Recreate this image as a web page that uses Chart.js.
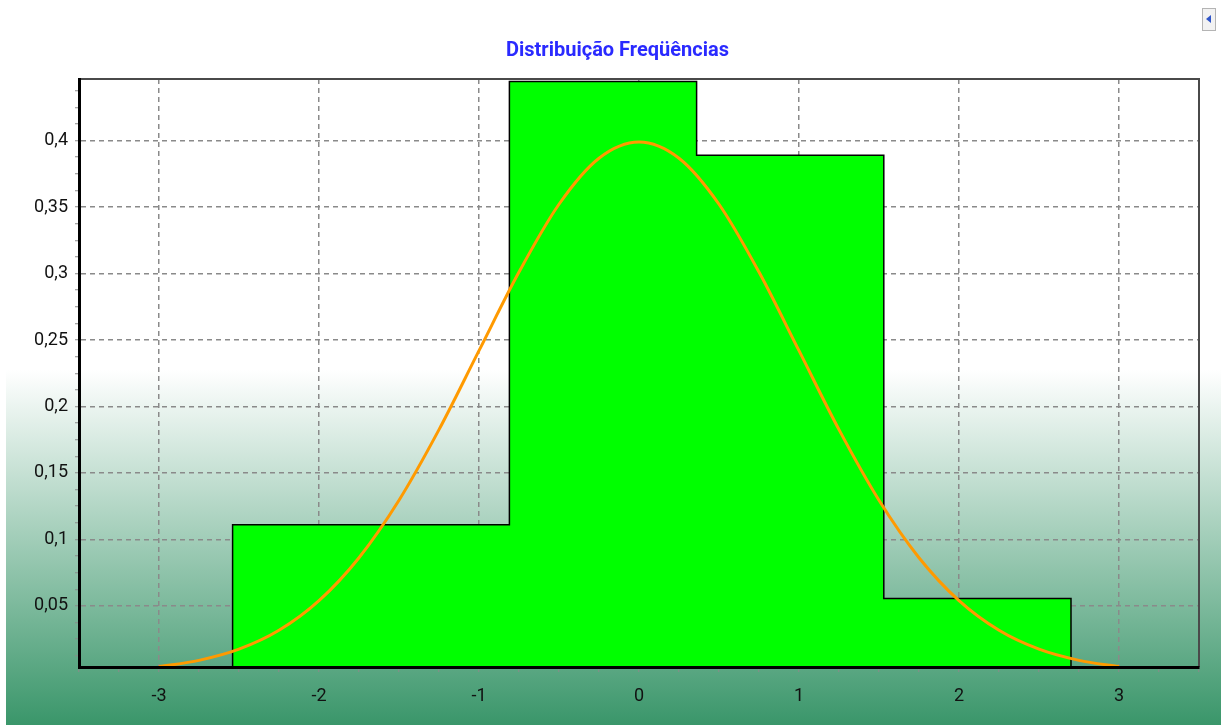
<!DOCTYPE html>
<html>
<head>
    <meta charset="UTF-8">
    <title>Distribuição Freqüências</title>
    <script src="https://cdn.jsdelivr.net/npm/chart.js@4.4.0/dist/chart.umd.min.js"></script>

    <style type="text/css">
        body {
            padding:0px;
            margin:0px;
            background:#ffffff;
        }

        #wrap {
            position:relative;
            width:1221px;
            height:725px;
            overflow:hidden;
        }

        #bg {
            position:absolute;
            left:6px;
            right:0px;
            top:370px;
            bottom:0px;
            background:linear-gradient(to bottom, #ffffff 0%, #3a966a 100%);
        }

        #freqChart {
            position:absolute;
            left:0px;
            top:0px;
        }

        #scrollBtn {
            position:absolute;
            left:1202px;
            top:8px;
            width:12px;
            height:21px;
            border:1px solid #b4b4b4;
            background:#f2f2f2;
        }

        #scrollBtn span {
            position:absolute;
            left:3px;
            top:6px;
            width:0;
            height:0;
            border-top:4px solid transparent;
            border-bottom:4px solid transparent;
            border-right:5px solid #2f55c8;
        }
    </style>
</head>
<body>

<div id="wrap">
    <div id="bg"></div>
    <canvas id="freqChart" width="1221" height="725"></canvas>
    <div id="scrollBtn"><span></span></div>
</div>

<script type="text/javascript">

    // histogram: class edges and relative frequencies
    var binEdges = [-2.54, -0.81, 0.36, 1.53, 2.70];
    var binFreq = [0.1111, 0.4444, 0.3889, 0.0556];

    // normal curve
    var curveX = [-3, -2.75, -2.5, -2.25, -2, -1.75, -1.5, -1.25, -1, -0.75, -0.5, -0.25, 0,
                  0.25, 0.5, 0.75, 1, 1.25, 1.5, 1.75, 2, 2.25, 2.5, 2.75, 3];
    var curveY = [0.0044, 0.0091, 0.0175, 0.0317, 0.0540, 0.0863, 0.1295, 0.1826, 0.2420, 0.3011, 0.3521, 0.3867, 0.3989,
                  0.3867, 0.3521, 0.3011, 0.2420, 0.1826, 0.1295, 0.0863, 0.0540, 0.0317, 0.0175, 0.0091, 0.0044];

    // axis ticks
    var xTickLabels = [-3, -2, -1, 0, 1, 2, 3];
    var yTickLabels = [0.05, 0.1, 0.15, 0.2, 0.25, 0.3, 0.35, 0.4];
    var xRange = [-3.5, 3.5];
    var yRange = [0.0041, 0.4463];
    var xMinorStep = 0.25;
    var yMinorStep = 0.0125;

    var titleText = 'Distribuição Freqüências';
    var labelFont = "Roboto, 'Liberation Sans', sans-serif";

    // build the step outline of the histogram
    var histPoints = [{x: binEdges[0], y: yRange[0]}];
    for (var i = 0; i < binFreq.length; i++) {
        histPoints.push({x: binEdges[i], y: binFreq[i]});
    }
    histPoints.push({x: binEdges[binEdges.length - 1], y: yRange[0]});

    var curvePoints = curveX.map(function (x, k) {
        return {x: x, y: curveY[k]};
    });

    function isIn(list, v) {
        for (var j = 0; j < list.length; j++) {
            if (Math.abs(list[j] - v) < 1e-6) return true;
        }
        return false;
    }

    function minorTicks(lo, hi, step) {
        var out = [];
        var start = Math.ceil(lo / step - 1e-6);
        for (var k = start; k * step <= hi + 1e-9; k++) {
            out.push({value: Math.round(k * step * 10000) / 10000});
        }
        return out;
    }

    // top and right border of the plot frame, title nudged over the plot
    var frameBorder = {
        id: 'frameBorder',
        afterLayout: function (chart) {
            if (chart.titleBlock) {
                chart.titleBlock.left += 18;
                chart.titleBlock.right += 18;
            }
        },
        beforeDatasetsDraw: function (chart) {
            var a = chart.chartArea;
            var ctx = chart.ctx;
            ctx.save();
            ctx.lineWidth = 2;
            ctx.strokeStyle = '#4a4a4a';
            ctx.beginPath();
            ctx.moveTo(a.left, a.top);
            ctx.lineTo(a.right, a.top);
            ctx.lineTo(a.right, a.bottom);
            ctx.stroke();
            ctx.restore();
        }
    };

    var gridGray = '#8a8a8a';

    var ctx = document.getElementById('freqChart').getContext('2d');
    var freqChart = new Chart(ctx, {
        type: 'line',
        data: {
            datasets: [{
                label: 'Frequência',
                data: histPoints,
                stepped: true,
                fill: 'start',
                backgroundColor: '#00ff00',
                borderColor: '#000000',
                borderWidth: 1.5,
                pointRadius: 0,
                clip: false,
                order: 2
            }, {
                label: 'Normal',
                data: curvePoints,
                fill: false,
                borderColor: '#ff9a00',
                borderWidth: 3,
                pointRadius: 0,
                cubicInterpolationMode: 'monotone',
                clip: false,
                order: 1
            }]
        },
        options: {
            responsive: false,
            animation: false,
            layout: {
                padding: {left: 0, right: 22, top: 0, bottom: 0}
            },
            plugins: {
                legend: {display: false},
                tooltip: {enabled: false},
                title: {
                    display: true,
                    text: titleText,
                    color: '#2a2aff',
                    font: {family: labelFont, size: 20, weight: 'bold'},
                    padding: {top: 39, bottom: 16}
                }
            },
            scales: {
                x: {
                    type: 'linear',
                    min: xRange[0],
                    max: xRange[1],
                    afterBuildTicks: function (scale) {
                        scale.ticks = minorTicks(xRange[0], xRange[1], xMinorStep);
                    },
                    afterFit: function (scale) {
                        scale.height = 58;
                    },
                    ticks: {
                        autoSkip: false,
                        maxRotation: 0,
                        padding: 14,
                        color: '#111111',
                        font: {family: labelFont, size: 18},
                        callback: function (v) {
                            return isIn(xTickLabels, v) ? String(v) : '';
                        }
                    },
                    grid: {
                        lineWidth: 1.5,
                        tickLength: 5,
                        tickWidth: 1,
                        tickBorderDash: [],
                        tickColor: gridGray,
                        color: function (c) {
                            return c.tick && isIn(xTickLabels, c.tick.value) ? gridGray : 'transparent';
                        }
                    },
                    border: {display: true, color: '#000000', width: 3, dash: [5, 4], z: 1}
                },
                y: {
                    type: 'linear',
                    min: yRange[0],
                    max: yRange[1],
                    afterBuildTicks: function (scale) {
                        scale.ticks = minorTicks(yRange[0], yRange[1], yMinorStep);
                    },
                    afterFit: function (scale) {
                        scale.width = 79;
                    },
                    ticks: {
                        autoSkip: false,
                        padding: 7,
                        color: '#111111',
                        font: {family: labelFont, size: 18},
                        callback: function (v) {
                            if (!isIn(yTickLabels, v)) return '';
                            return String(Math.round(v * 100) / 100).replace('.', ',');
                        }
                    },
                    grid: {
                        lineWidth: 1.5,
                        tickLength: 4,
                        tickWidth: 1,
                        tickBorderDash: [],
                        tickColor: gridGray,
                        color: function (c) {
                            return c.tick && isIn(yTickLabels, c.tick.value) ? gridGray : 'transparent';
                        }
                    },
                    border: {display: true, color: '#000000', width: 3, dash: [5, 4], z: 1}
                }
            }
        },
        plugins: [frameBorder]
    });

</script>

</body>
</html>
